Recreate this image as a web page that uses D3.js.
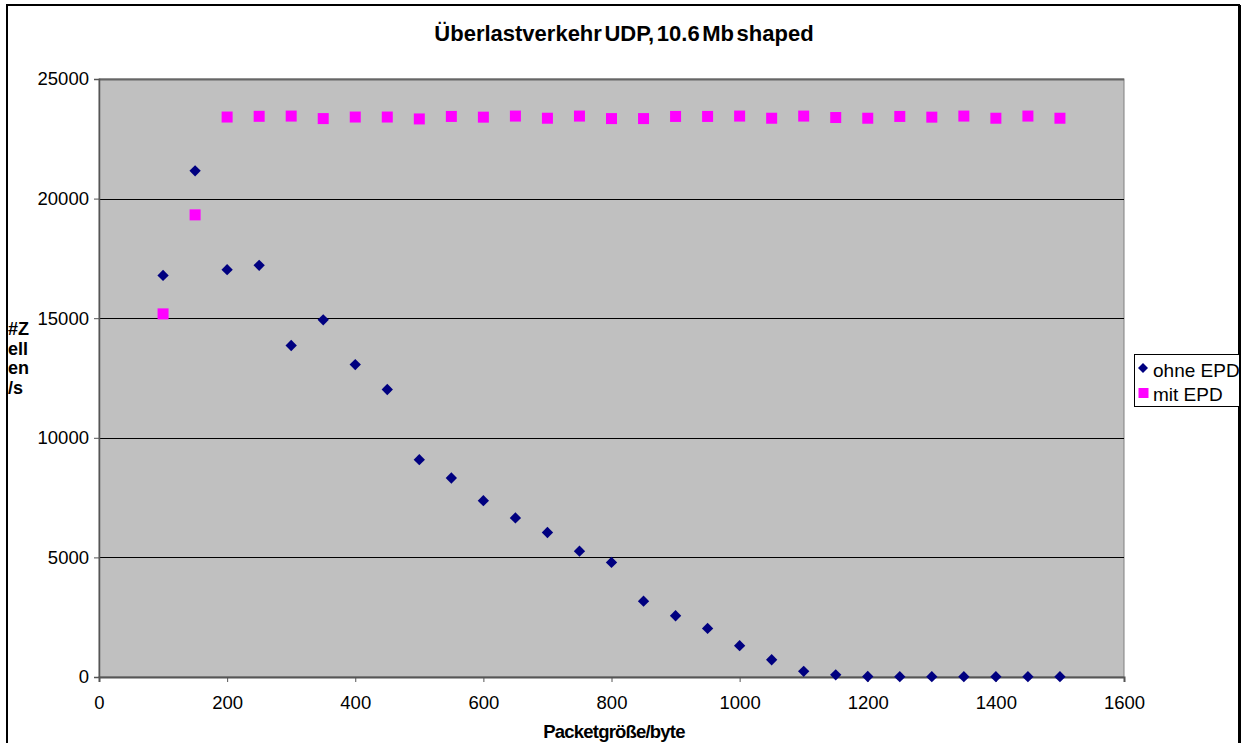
<!DOCTYPE html>
<html><head><meta charset="utf-8">
<script src="https://cdn.jsdelivr.net/npm/d3@7"></script>
<style>
body{margin:0;background:#fff;}
svg{display:block;font-family:"Liberation Sans",Arial,sans-serif;}
</style></head>
<body><svg id="c" width="1245" height="743"></svg>
<script>
const packetSizes = [100,150,200,250,300,350,400,450,500,550,600,650,700,750,800,850,900,950,1000,1050,1100,1150,1200,1250,1300,1350,1400,1450,1500];
const ohneEPD = [16790,21160,17030,17210,13860,14930,13060,12020,9085,8320,7370,6650,6040,5260,4790,3170,2560,2030,1310,720,236,90,20,15,15,15,15,15,15];
const mitEPD = [15180,19320,23410,23440,23450,23345,23410,23410,23330,23435,23405,23450,23360,23450,23345,23345,23435,23435,23450,23360,23450,23390,23360,23435,23405,23450,23360,23450,23360];
const xTicks = [0,200,400,600,800,1000,1200,1400,1600];
const yTicks = [0,5000,10000,15000,20000,25000];
const seriesNames = ["ohne EPD","mit EPD"];
const yLabelLines = ["#Z","ell","en","/s"];

const svg = d3.select("#c");
svg.append("rect").attr("x",7).attr("y",5).attr("width",1232).attr("height",745)
  .attr("fill","none").attr("stroke","#000").attr("stroke-width",2);

const L=99,R=1124,T=79,B=677;
const x = d3.scaleLinear().domain([0,1600]).range([L,R]);
const y = d3.scaleLinear().domain([0,25000]).range([B,T]);

svg.append("rect").attr("x",L).attr("y",T).attr("width",R-L).attr("height",B-T)
  .attr("fill","#c0c0c0").attr("stroke","#808080").attr("stroke-width",1);

svg.append("g").selectAll("line").data(yTicks.filter(d=>d>0&&d<25000)).join("line")
  .attr("x1",L).attr("x2",R).attr("y1",d=>Math.round(y(d))+0.5).attr("y2",d=>Math.round(y(d))+0.5)
  .attr("stroke","#000").attr("stroke-width",1);
svg.append("line").attr("x1",L).attr("x2",R).attr("y1",T+0.5).attr("y2",T+0.5).attr("stroke","#666").attr("stroke-width",2);

const yAxis = d3.axisLeft(y).tickValues(yTicks).tickSize(5).tickPadding(5).tickFormat(d3.format("d"));
const gy = svg.append("g").attr("transform",`translate(${L},0)`).call(yAxis);
gy.select(".domain").attr("stroke","#555").attr("stroke-width",1.5);
gy.selectAll(".tick line").attr("stroke","#555");
gy.selectAll("text").attr("font-size",18.5).attr("fill","#000").attr("font-family","Liberation Sans, Arial, sans-serif");

const xAxis = d3.axisBottom(x).tickValues(xTicks).tickSize(5).tickPadding(14).tickFormat(d3.format("d"));
const gx = svg.append("g").attr("transform",`translate(0,${B})`).call(xAxis);
gx.select(".domain").attr("stroke","#555").attr("stroke-width",2);
gx.selectAll(".tick line").attr("stroke","#555");
gx.selectAll("text").attr("font-size",18.5).attr("fill","#000").attr("font-family","Liberation Sans, Arial, sans-serif");

const dsym = d3.symbol().type(d3.symbolSquare).size(64);
svg.append("g").selectAll("path").data(packetSizes.map((p,i)=>[p,ohneEPD[i]])).join("path")
  .attr("d",dsym).attr("transform",d=>`translate(${x(d[0])},${y(d[1])}) rotate(45)`).attr("fill","#000080");
svg.append("g").selectAll("rect").data(packetSizes.map((p,i)=>[p,mitEPD[i]])).join("rect")
  .attr("x",d=>x(d[0])-5.5).attr("y",d=>y(d[1])-5.5).attr("width",11).attr("height",11).attr("fill","#ff00ff");

// title
svg.append("text").attr("x",624).attr("y",41).attr("text-anchor","middle")
  .attr("font-size",22).attr("font-weight","bold").attr("word-spacing","-3.5px")
  .text("Überlastverkehr UDP, 10.6 Mb shaped");

// y label
svg.append("g").selectAll("text").data(yLabelLines).join("text")
  .attr("x",8).attr("y",(d,i)=>335+i*19.7).attr("font-size",18).attr("font-weight","bold").text(d=>d);

// x label
svg.append("text").attr("x",614).attr("y",738).attr("text-anchor","middle")
  .attr("font-size",18.5).attr("font-weight","bold").attr("letter-spacing","-0.8px")
  .text("Packetgröße/byte");

// legend
const lg = svg.append("g");
lg.append("rect").attr("x",1134.5).attr("y",354.5).attr("width",110).attr("height",52)
  .attr("fill","#fff").attr("stroke","#000");
lg.append("path").attr("d",d3.symbol().type(d3.symbolSquare).size(50)())
  .attr("transform","translate(1143,368) rotate(45)").attr("fill","#000080");
lg.append("rect").attr("x",1138.5).attr("y",388).attr("width",10).attr("height",10).attr("fill","#ff00ff");
lg.selectAll("text.l").data(seriesNames).join("text").attr("class","l")
  .attr("x",1153).attr("y",(d,i)=>377+i*24).attr("font-size",19).text(d=>d);
svg.append("line").attr("x1",1240).attr("x2",1240).attr("y1",5).attr("y2",743).attr("stroke","#000").attr("stroke-width",2);
svg.append("rect").attr("x",1241).attr("y",0).attr("width",4).attr("height",743).attr("fill","#fff");
</script></body></html>
